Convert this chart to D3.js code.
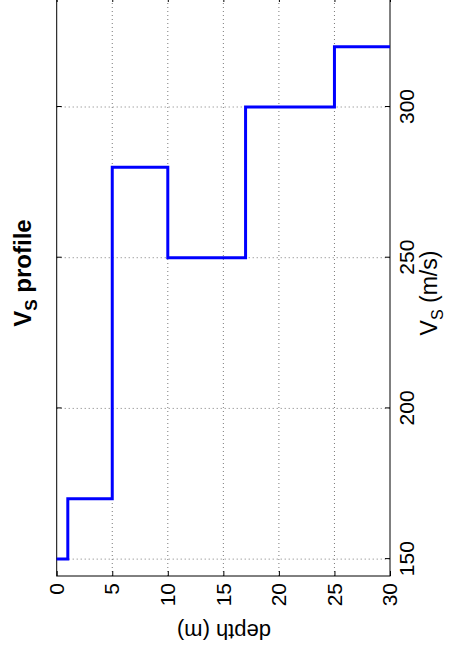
<!DOCTYPE html>
<html><head><meta charset="utf-8">
<script src="https://cdn.jsdelivr.net/npm/d3@7"></script>
<style>body{margin:0;background:#fff}svg{display:block;background:#fff}</style>
</head><body><svg id="c" width="452" height="651"></svg>
<script>
// Layered shear-wave velocity profile
const layerDepthTop    = [0, 1, 5, 10, 17, 25];
const layerDepthBottom = [1, 5, 10, 17, 25, 30];
const layerVs          = [150, 170, 280, 250, 300, 320];
const vsTicks    = [150, 200, 250, 300];
const depthTicks = [0, 5, 10, 15, 20, 25, 30];
const vsDomain    = [144.4, 336.5];
const depthDomain = [0, 30];

const FONT = '"Liberation Sans", Arial, Helvetica, sans-serif';
const svg = d3.select("#c");
// whole MATLAB figure is rotated 90° counter-clockwise
const g = svg.append("g").attr("transform", "translate(0,651) rotate(-90)");

const x = d3.scaleLinear().domain(vsDomain).range([75, 654]);
const y = d3.scaleLinear().domain(depthDomain).range([56.7, 390]);

// grid
const grid = g.append("g").attr("stroke", "#7a7a7a").attr("stroke-width", 1).attr("stroke-dasharray", "1,3");
grid.selectAll("line.v").data(vsTicks).join("line").attr("class", "v")
  .attr("x1", d => x(d)).attr("x2", d => x(d)).attr("y1", y(0)).attr("y2", y(30));
grid.selectAll("line.h").data(depthTicks.slice(1, -1)).join("line").attr("class", "h")
  .attr("x1", x(vsDomain[0])).attr("x2", x(vsDomain[1])).attr("y1", d => y(d)).attr("y2", d => y(d));

function styleAxis(sel) {
  sel.select(".domain").remove();
  sel.attr("font-size", 21).attr("font-family", FONT).attr("color", "#000");
}
g.append("g").attr("transform", `translate(0,${y(30)})`)
  .call(d3.axisBottom(x).tickValues(vsTicks).tickSizeInner(-5).tickSizeOuter(0).tickPadding(9))
  .call(styleAxis);
g.append("g").attr("transform", `translate(0,${y(0)})`)
  .call(d3.axisTop(x).tickValues(vsTicks).tickSizeInner(-5).tickSizeOuter(0).tickFormat(""))
  .call(styleAxis);
g.append("g").attr("transform", `translate(${x(vsDomain[0])},0)`)
  .call(d3.axisLeft(y).tickValues(depthTicks).tickSizeInner(-5).tickSizeOuter(0).tickPadding(7))
  .call(styleAxis);
g.append("g").attr("transform", `translate(${x(vsDomain[1])},0)`)
  .call(d3.axisRight(y).tickValues(depthTicks).tickSizeInner(-5).tickSizeOuter(0).tickFormat(""))
  .call(styleAxis);

// box
g.append("rect").attr("x", x(vsDomain[0])).attr("y", y(0))
  .attr("width", x(vsDomain[1]) - x(vsDomain[0])).attr("height", y(30) - y(0))
  .attr("fill", "none").attr("stroke", "#000").attr("stroke-width", 1);

// profile
const pts = [];
layerVs.forEach((v, i) => { pts.push([v, layerDepthTop[i]]); pts.push([v, layerDepthBottom[i]]); });
g.append("path").datum(pts)
  .attr("d", d3.line().x(d => x(d[0])).y(d => y(d[1])))
  .attr("fill", "none").attr("stroke", "#0000ff").attr("stroke-width", 3)
  .attr("stroke-linejoin", "miter").attr("stroke-linecap", "butt");

// labels
const xl = g.append("text").attr("x", 358).attr("y", 437).attr("text-anchor", "middle")
  .attr("font-family", FONT).attr("font-size", 23).attr("fill", "#000");
xl.append("tspan").text("V");
xl.append("tspan").attr("font-size", 16).attr("dy", 6).text("S");
xl.append("tspan").attr("dy", -6).text(" (m/s)");

g.append("text").attr("transform", "translate(27,224) rotate(-90)").attr("text-anchor", "middle")
  .attr("font-family", FONT).attr("font-size", 22).attr("fill", "#000").text("depth (m)");

const tl = g.append("text").attr("x", 378).attr("y", 31).attr("text-anchor", "middle")
  .attr("font-family", FONT).attr("font-size", 24).attr("font-weight", "bold").attr("fill", "#000");
tl.append("tspan").text("V");
tl.append("tspan").attr("font-size", 17).attr("dy", 6).text("S");
tl.append("tspan").attr("dy", -6).text(" profile");
</script></body></html>
